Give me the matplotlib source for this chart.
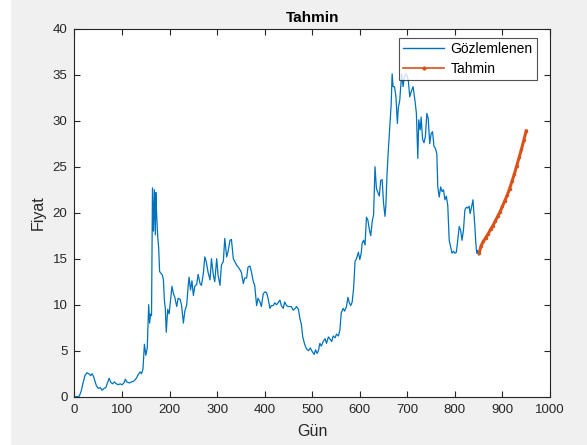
import matplotlib
matplotlib.use("Agg")
import matplotlib.pyplot as plt
from matplotlib.patches import Rectangle
from matplotlib.lines import Line2D

obs_day = [0, 5, 10, 14, 18, 22, 26, 30, 34, 37, 40, 43, 46, 50, 54, 58, 62, 66, 70, 73,
           76, 80, 84, 88, 92, 96, 100, 104, 107, 110, 115, 120, 125, 130, 134, 138, 141, 144, 147, 150,
           153, 156, 158, 160, 162, 164, 166, 168, 170, 171, 173, 175, 177, 179, 182, 185, 187, 189, 191, 193,
           196, 199, 202, 205, 208, 211, 215, 218, 222, 225, 229, 232, 236, 239, 241, 244, 247, 250, 253, 257,
           260, 264, 267, 271, 274, 277, 281, 285, 288, 292, 295, 299, 302, 306, 309, 313, 316, 320, 323, 327,
           330, 334, 337, 341, 344, 348, 351, 355, 358, 362, 365, 369, 372, 376, 379, 383, 386, 390, 393, 397,
           401, 404, 407, 411, 414, 418, 421, 425, 428, 432, 435, 439, 442, 446, 449, 453, 456, 460, 464, 467,
           471, 474, 477, 480, 484, 488, 492, 496, 500, 504, 507, 510, 513, 516, 519, 523, 527, 530, 534, 537,
           541, 544, 548, 551, 555, 558, 561, 565, 568, 572, 575, 578, 581, 584, 587, 590, 593, 597, 600, 603,
           605, 608, 611, 614, 617, 620, 623, 626, 629, 632, 635, 638, 641, 644, 647, 650, 653, 655, 657, 660,
           663, 666, 668, 670, 673, 676, 679, 681, 684, 688, 691, 694, 698, 702, 705, 709, 712, 716, 719, 722,
           724, 727, 729, 732, 735, 738, 741, 744, 747, 750, 753, 756, 759, 762, 764, 767, 770, 773, 776, 779,
           782, 785, 788, 791, 794, 797, 800, 803, 806, 809, 812, 815, 818, 821, 824, 827, 830, 832, 835, 838,
           840, 842, 844, 846, 848, 850]
obs_price = [0.0, 0.0, 0.05, 0.6, 1.5, 2.3, 2.6, 2.5, 2.3, 2.5, 2.2, 1.7, 1.2, 0.9, 1.0, 0.7, 0.9, 1.0, 1.6, 2.0,
             1.6, 1.4, 1.6, 1.4, 1.3, 1.4, 1.3, 1.5, 1.9, 1.6, 1.5, 1.6, 1.7, 2.0, 2.4, 2.7, 2.5, 3.0, 5.7, 4.5,
             5.3, 10.0, 8.0, 9.0, 8.8, 22.7, 18.0, 22.5, 17.6, 22.2, 19.5, 17.4, 16.2, 13.6, 13.4, 13.2, 12.7, 10.5, 9.6, 7.0,
             9.5, 9.0, 10.5, 12.0, 11.2, 10.8, 9.8, 10.7, 10.6, 10.0, 8.0, 9.3, 10.0, 12.0, 13.0, 11.6, 12.6, 11.0, 12.0, 12.2,
             13.3, 12.3, 12.1, 13.4, 15.2, 14.7, 13.5, 12.7, 15.0, 13.2, 12.5, 15.0, 13.2, 12.1, 14.3, 14.7, 17.2, 15.2, 15.8, 17.0,
             17.1, 15.0, 14.7, 14.3, 14.1, 13.8, 13.5, 12.3, 12.9, 12.9, 14.1, 14.2, 13.6, 12.5, 12.1, 9.9, 10.7, 10.3, 9.8, 11.2,
             11.4, 11.3, 10.7, 9.6, 9.9, 9.9, 10.2, 10.0, 10.2, 10.5, 9.9, 9.6, 10.3, 9.9, 9.8, 9.8, 9.8, 9.4, 9.6, 9.8,
             9.5, 8.5, 7.9, 6.5, 5.7, 5.2, 5.0, 5.3, 4.9, 4.6, 5.1, 4.7, 5.0, 5.8, 5.5, 6.0, 6.3, 5.8, 6.5, 6.3,
             6.0, 6.6, 6.4, 6.8, 6.6, 7.2, 9.1, 9.6, 9.3, 9.8, 10.8, 10.2, 9.9, 10.3, 11.8, 14.7, 15.0, 15.7, 14.9, 15.6,
             16.7, 17.0, 16.5, 19.5, 19.2, 18.2, 17.5, 19.0, 19.8, 25.0, 22.6, 22.2, 21.8, 23.5, 23.6, 21.0, 19.6, 21.0, 23.9, 26.8,
             29.3, 31.8, 35.1, 33.7, 33.7, 32.6, 29.7, 31.4, 32.2, 35.1, 33.7, 34.8, 35.1, 34.4, 32.6, 33.3, 33.7, 32.2, 30.8, 25.9,
             30.1, 29.0, 30.4, 28.0, 27.6, 28.3, 30.8, 30.2, 27.5, 28.6, 28.8, 27.2, 27.0, 26.4, 22.8, 21.7, 22.8, 22.3, 22.5, 21.4,
             21.8, 20.8, 17.0, 16.3, 15.6, 15.8, 15.6, 15.7, 17.0, 18.5, 18.1, 17.0, 18.1, 20.3, 20.6, 20.5, 20.7, 19.9, 20.6, 21.4,
             19.9, 18.5, 16.7, 15.6, 15.9, 15.4]

# Forecast series
fc_day = [851, 855, 860, 865, 870, 875, 880, 885, 890, 895, 900, 905, 910, 915, 920, 925, 930, 935, 940, 945, 950]
fc_price = [15.6, 16.4, 16.9, 17.3, 17.7, 18.2, 18.6, 19.1, 19.6, 20.1, 20.7, 21.3, 21.9, 22.6, 23.4, 24.2, 25.1,
            26.0, 26.9, 27.9, 28.9]

x_ticks = [0, 100, 200, 300, 400, 500, 600, 700, 800, 900, 1000]
y_ticks = [0, 5, 10, 15, 20, 25, 30, 35, 40]

BLUE = '#0072BD'
ORANGE = '#D95319'
DARK = '#262626'

plt.rcParams['font.family'] = ['Liberation Sans', 'DejaVu Sans']

fig = plt.figure(figsize=(5.87, 4.45), dpi=100)
fig.patch.set_facecolor('#F0F0F0')
fig.patches.append(Rectangle((0, 0), 11 / 587, 1, transform=fig.transFigure,
                             facecolor='white', edgecolor='none', zorder=-1))
ax = fig.add_axes([74.5 / 587, 48.3 / 445, 475.5 / 587, 368.0 / 445])
ax.set_facecolor('white')

ax.plot(obs_day, obs_price, color=BLUE, linewidth=0.9)
ax.plot(fc_day, fc_price, color=ORANGE, linewidth=2.2, marker='.', markersize=3)

ax.set_xlim(0, 1000)
ax.set_ylim(0, 40)
ax.set_xticks(x_ticks)
ax.set_yticks(y_ticks)
ax.tick_params(direction='in', top=True, right=True, length=4, width=0.8,
               colors=DARK, labelsize=9.5, pad=5)
for s in ax.spines.values():
    s.set_color(DARK)
    s.set_linewidth(0.8)

ax.set_title('Tahmin', fontsize=11, fontweight='bold', color='black', pad=5)
ax.set_xlabel('Gün', fontsize=11.5, color=DARK, labelpad=6)
ax.set_ylabel('Fiyat', fontsize=11.5, color=DARK, labelpad=5)

handles = [Line2D([], [], color=BLUE, linewidth=1.0),
           Line2D([], [], color=ORANGE, linewidth=1.2, marker='.', markersize=4)]
leg = ax.legend(handles, ['Gözlemlenen', 'Tahmin'], loc='upper right',
                bbox_to_anchor=((537 - 74.5) / 475.5, 1 - 9 / 368.0),
                bbox_transform=ax.transAxes, borderaxespad=0,
                fontsize=10, frameon=True, fancybox=False, handlelength=2.9,
                borderpad=0.3, labelspacing=0.45, handletextpad=0.5, numpoints=1)
leg.get_frame().set_edgecolor(DARK)
leg.get_frame().set_linewidth(0.8)

fig.savefig('out.png', dpi=100, facecolor=fig.get_facecolor())
